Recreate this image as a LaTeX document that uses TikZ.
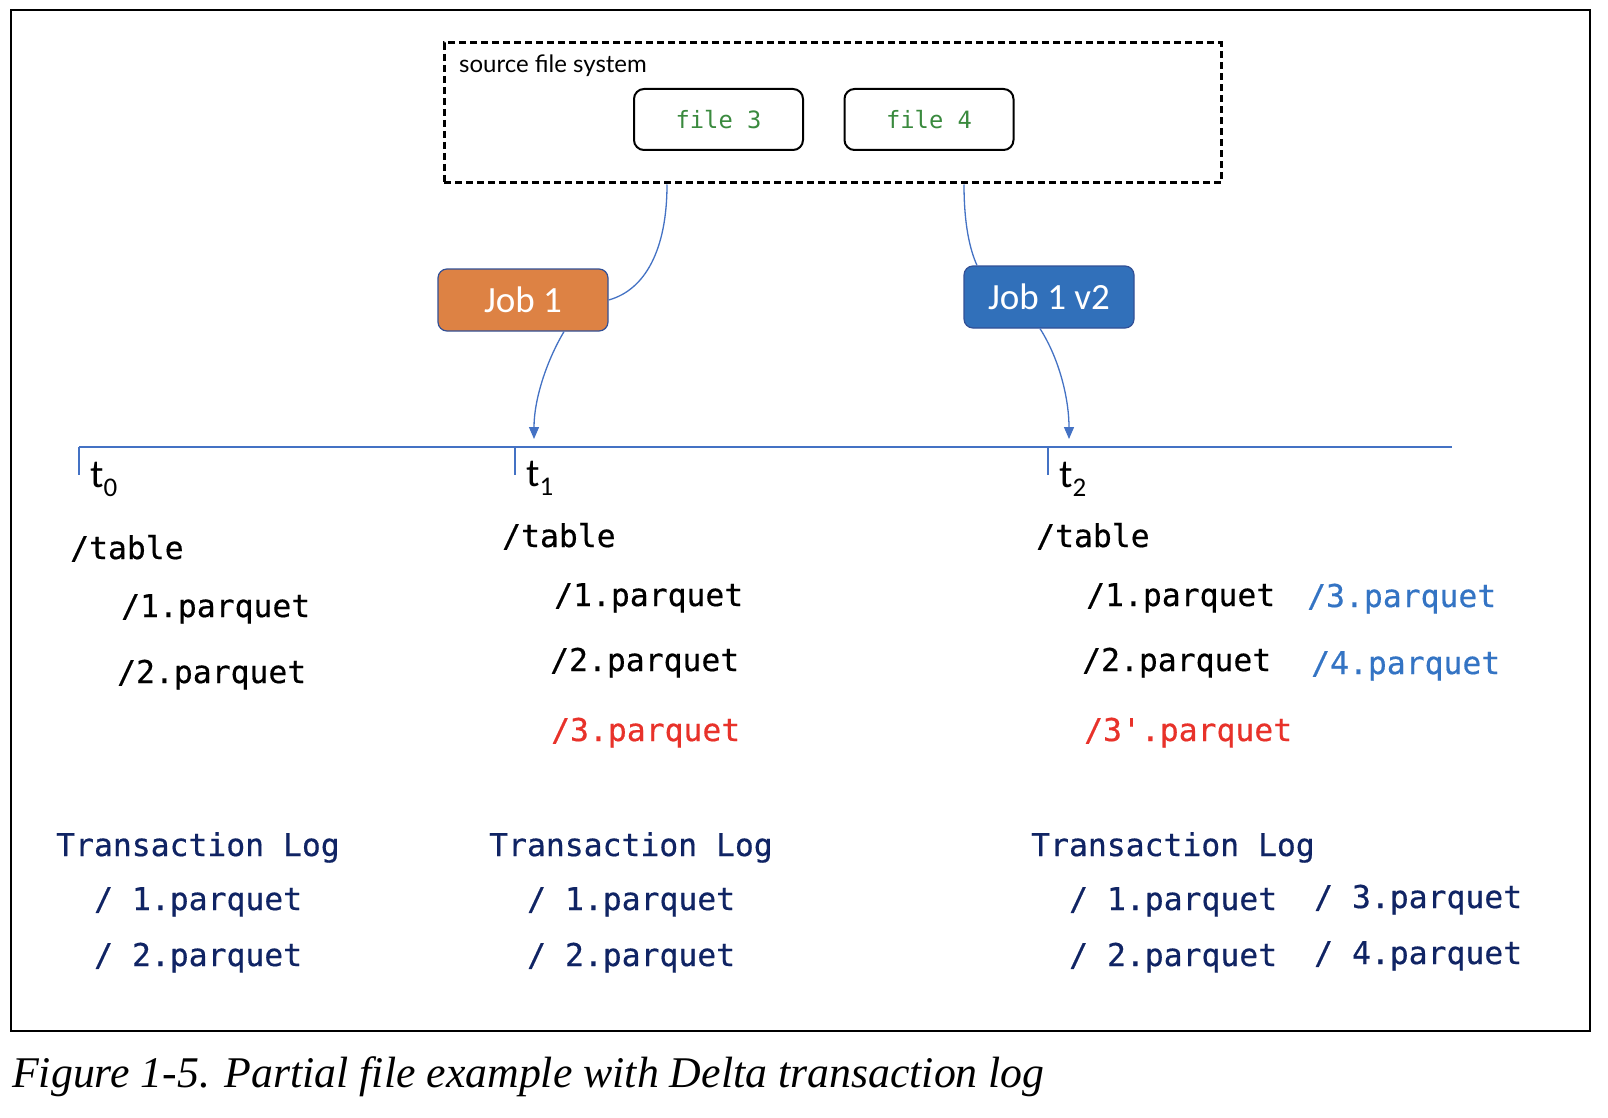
\documentclass[tikz,border=0pt]{standalone}
\usepackage{fontspec}
\usetikzlibrary{arrows.meta}
\newfontfamily\monof[FakeBold=0.5]{DejaVu Sans Mono}
\newfontfamily\monol{DejaVu Sans Mono}
\newfontfamily\carl{Carlito}
\newfontfamily\latof{Lato}
\newfontfamily\capf{Liberation Serif}
\definecolor{navyc}{RGB}{16,36,100}
\definecolor{redc}{RGB}{232,50,42}
\definecolor{bluec}{RGB}{52,116,196}
\definecolor{greenc}{RGB}{58,138,62}
\definecolor{orangec}{RGB}{221,130,68}
\definecolor{jobblue}{RGB}{49,112,186}
\definecolor{edgec}{RGB}{50,80,150}
\definecolor{linec}{RGB}{68,114,196}
\begin{document}
\begin{tikzpicture}[x=1pt,y=-1pt,
  mono/.style={font=\monof\fontsize{31.4}{36}\selectfont, inner sep=0pt, anchor=west, text height=26pt, text depth=4pt},
  logtxt/.style={mono, text=navyc},
  filebox/.style={draw=black, line width=2pt, rounded corners=10pt, minimum width=169pt, minimum height=61pt, inner sep=0pt, text=greenc, font=\monol\fontsize{23.8}{28}\selectfont},
  jobbox/.style={draw=edgec, line width=1.2pt, rounded corners=9pt, minimum width=170pt, minimum height=62pt, inner sep=0pt, text=white, font=\carl\fontsize{37}{40}\selectfont},
  conn/.style={draw=linec, line width=1.3pt},
  arr/.style={conn, -{Triangle[width=10pt,length=12pt]}},
  tlab/.style={inner sep=0pt, anchor=base west, font=\carl\fontsize{40}{44}\selectfont}
]
\useasboundingbox (0,0) rectangle (1608,1118);
\fill[white] (0,0) rectangle (1608,1118);
% outer frame
\draw[line width=2pt] (11,10) rectangle (1590,1031);

% source file system
\node[draw=black, line width=3pt, dash pattern=on 7pt off 4pt, minimum width=777pt, minimum height=140pt, inner sep=0pt] (src) at (832.5,113) {};
\node[inner sep=0pt, anchor=base west, font=\latof\fontsize{24}{28}\selectfont] (srclab) at (459,73) {source file system};
\node[filebox] (file3) at (718.5,119.5) {file 3};
\node[filebox] (file4) at (929,119.5) {file 4};

% jobs
\node[jobbox, fill=orangec] (job1) at (523,300) {Job 1};
\node[jobbox, fill=jobblue] (job2) at (1049,297) {Job 1 v2};

% timeline
\coordinate (tl0) at (79,447);
\coordinate (tl1) at (515,447);
\coordinate (tl2) at (1048,447);
\coordinate (tlend) at (1452,447);
\coordinate (tk0) at (79,475);
\coordinate (tk1) at (515,475);
\coordinate (tk2) at (1048,475);
\draw[conn, line width=2pt] (tl0) -- (tlend);
\draw[conn] (tl0) -- (tk0);
\draw[conn] (tl1) -- (tk1);
\draw[conn] (tl2) -- (tk2);
\coordinate (a1) at (534,439);
\coordinate (a2) at (1069,439);

% connectors
\draw[conn] ([xshift=-165.5pt]src.south) .. controls (667,250) and (645,290) .. (job1.east);
\draw[conn] ([xshift=131.5pt]src.south) .. controls (964,225) and (970,250) .. ([xshift=-72pt]job2.north);
\draw[arr] ([xshift=41pt]job1.south) .. controls (546,362) and (534,400) .. (a1);
\draw[arr] ([xshift=-9pt]job2.south) .. controls (1060,360) and (1069,400) .. (a2);

% time labels
\node[tlab] (t0) at (90,487) {t\raisebox{-9pt}{\fontsize{27}{28}\selectfont 0}};
\node[tlab] (t1) at (526,486) {t\raisebox{-9pt}{\fontsize{27}{28}\selectfont 1}};
\node[tlab] (t2) at (1059,487) {t\raisebox{-9pt}{\fontsize{27}{28}\selectfont 2}};

% t0 column
\node[mono] (c0a) at (70,548) {/table};
\node[mono] (c0b) at (121,606) {/1.parquet};
\node[mono] (c0c) at (117,672) {/2.parquet};
% t1 column
\node[mono] (c1a) at (502,536) {/table};
\node[mono] (c1b) at (554,595) {/1.parquet};
\node[mono] (c1c) at (550,660) {/2.parquet};
\node[mono, text=redc] (c1d) at (551,730) {/3.parquet};
% t2 column
\node[mono] (c2a) at (1036,536) {/table};
\node[mono] (c2b) at (1086,595) {/1.parquet};
\node[mono] (c2c) at (1082,660) {/2.parquet};
\node[mono, text=redc] (c2d) at (1084,730) {/3\textquotesingle.parquet};
\node[mono, text=bluec] (c2e) at (1307,596) {/3.parquet};
\node[mono, text=bluec] (c2f) at (1311,663) {/4.parquet};

% transaction logs
\node[logtxt] (l0) at (56,845) {Transaction Log};
\node[logtxt] (l0a) at (94,899) {/ 1.parquet};
\node[logtxt] (l0b) at (94,955) {/ 2.parquet};
\node[logtxt] (l1) at (489,845) {Transaction Log};
\node[logtxt] (l1a) at (527,899) {/ 1.parquet};
\node[logtxt] (l1b) at (527,955) {/ 2.parquet};
\node[logtxt] (l2) at (1031,845) {Transaction Log};
\node[logtxt] (l2a) at (1069,899) {/ 1.parquet};
\node[logtxt] (l2b) at (1069,955) {/ 2.parquet};
\node[logtxt] (l2c) at (1314,897) {/ 3.parquet};
\node[logtxt] (l2d) at (1314,953) {/ 4.parquet};

% caption
\node[inner sep=0pt, anchor=base west, font=\capf\itshape\fontsize{43.8}{48}\selectfont] (cap) at (12,1087) {Figure 1-5. Partial file example with Delta transaction log};
\end{tikzpicture}
\end{document}
